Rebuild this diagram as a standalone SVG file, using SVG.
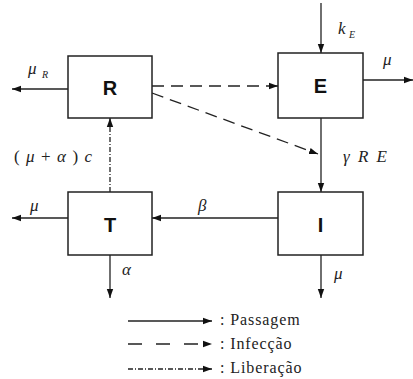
<svg xmlns="http://www.w3.org/2000/svg" width="413" height="379" viewBox="0 0 413 379">
<style>
.box{fill:#fff;stroke:#222;stroke-width:1.5}
.lbl{font-family:"Liberation Sans",Arial,sans-serif;font-weight:bold;font-size:20px;fill:#111;text-anchor:middle}
.m{font-family:"Liberation Serif","DejaVu Serif",serif;font-style:italic;font-size:17px;fill:#222}
.ms{font-family:"Liberation Serif","DejaVu Serif",serif;font-style:italic;font-size:10px;fill:#222}
.lg{font-family:"Liberation Serif","DejaVu Serif",serif;font-size:16px;fill:#222;letter-spacing:0.9px}
.s{fill:none;stroke:#222;stroke-width:1.3}
.d{fill:none;stroke:#222;stroke-width:1.3;stroke-dasharray:12 7}
.dd{fill:none;stroke:#222;stroke-width:1.3;stroke-dasharray:5 2 1 2}
</style>
<defs>
<marker id="ah" markerUnits="userSpaceOnUse" markerWidth="10" markerHeight="8" refX="9" refY="4" orient="auto">
<path d="M0,0.8 L9,4 L0,7.2 Z" fill="#111"/>
</marker>
</defs>
<rect width="413" height="379" fill="#fff"/>
<g id="connectors">
<line class="s" x1="68" y1="89" x2="12" y2="89" marker-end="url(#ah)"/>
<line class="s" x1="68" y1="218" x2="12" y2="218" marker-end="url(#ah)"/>
<line class="s" x1="110" y1="255" x2="110" y2="298" marker-end="url(#ah)"/>
<line class="s" x1="321" y1="255" x2="321" y2="298" marker-end="url(#ah)"/>
<line class="s" x1="321" y1="118" x2="321" y2="192" marker-end="url(#ah)"/>
<line class="s" x1="321" y1="3" x2="321" y2="53" marker-end="url(#ah)"/>
<line class="s" x1="363" y1="80" x2="413" y2="80" marker-end="url(#ah)"/>
<line class="s" x1="278" y1="218" x2="152" y2="218" marker-end="url(#ah)"/>
<line class="d" x1="152" y1="86" x2="278" y2="86" marker-end="url(#ah)"/>
<line class="d" x1="152" y1="93" x2="318" y2="154" marker-end="url(#ah)"/>
<line class="dd" x1="110" y1="192" x2="110" y2="118" marker-end="url(#ah)"/>
</g>
<g id="node-R">
<rect class="box" x="68" y="56" width="84" height="62"/>
<text class="lbl" x="110" y="95">R</text>
</g>
<g id="node-E">
<rect class="box" x="278" y="53" width="85" height="65"/>
<text class="lbl" x="320.5" y="93">E</text>
</g>
<g id="node-T">
<rect class="box" x="68" y="192" width="84" height="63"/>
<text class="lbl" x="110" y="232">T</text>
</g>
<g id="node-I">
<rect class="box" x="278" y="192" width="85" height="63"/>
<text class="lbl" x="320.5" y="232">I</text>
</g>
<g id="labels">
<text class="m" x="28" y="74">μ</text><text class="ms" x="42" y="78">R</text>
<text class="m" x="14" y="162" font-size="19" textLength="78" lengthAdjust="spacing"><tspan font-style="normal">(</tspan>μ<tspan font-style="normal">+</tspan>α<tspan font-style="normal">)</tspan>c</text>
<text class="m" x="30" y="211">μ</text>
<text class="m" x="198" y="211">β</text>
<text class="m" x="122" y="275">α</text>
<text class="m" x="334" y="279">μ</text>
<text class="m" x="343" y="162" textLength="44" lengthAdjust="spacing">γRE</text>
<text class="m" x="338" y="34">k</text><text class="ms" x="349" y="38">E</text>
<text class="m" x="383" y="65">μ</text>
</g>
<g id="legend">
<line class="s" x1="128" y1="321" x2="212" y2="321" marker-end="url(#ah)"/>
<line class="d" x1="128" y1="344" x2="212" y2="344" style="stroke-dasharray:14 14" marker-end="url(#ah)"/>
<line class="dd" x1="128" y1="369" x2="212" y2="369" marker-end="url(#ah)"/>
<text class="lg" x="220" y="325">: Passagem</text>
<text class="lg" x="220" y="349">: Infecção</text>
<text class="lg" x="220" y="373">: Liberação</text>
</g>
</svg>
